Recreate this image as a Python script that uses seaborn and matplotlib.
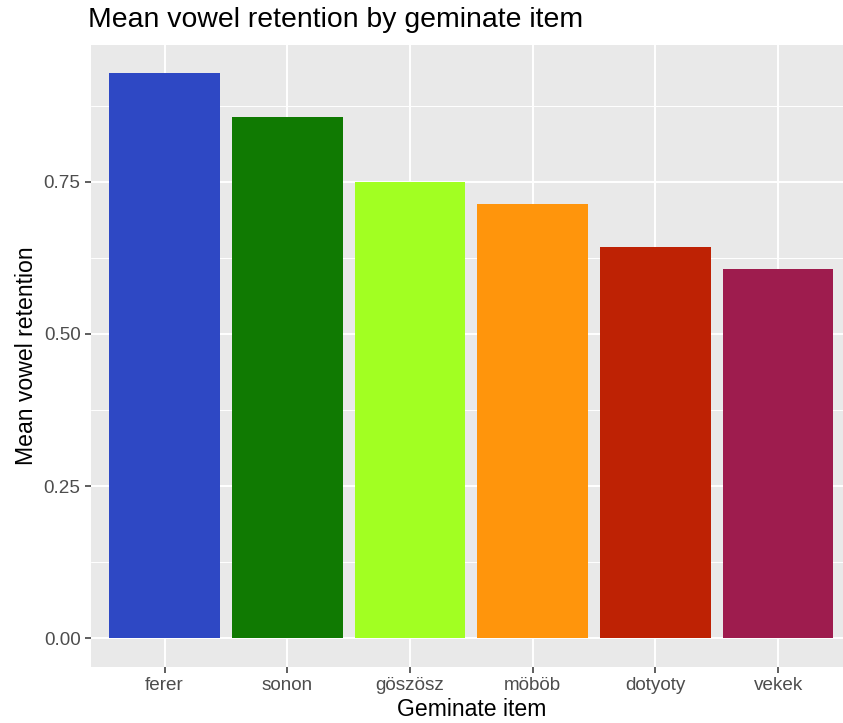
import matplotlib
matplotlib.use("Agg")
import matplotlib.pyplot as plt
import seaborn as sns
import pandas as pd
from matplotlib.ticker import MultipleLocator

items = ["ferer", "sonon", "göszösz", "möböb", "dotyoty", "vekek"]
retention = [0.928, 0.857, 0.750, 0.713, 0.642, 0.607]
colors = ["#2E48C4", "#107A02", "#A2FF22", "#FF950C", "#BE2204", "#9E1C4E"]
yticks = [0.00, 0.25, 0.50, 0.75]
ytick_labels = ["0.00", "0.25", "0.50", "0.75"]

df = pd.DataFrame({"item": items, "retention": retention})

sns.set_theme(style="darkgrid")
plt.rcParams["font.family"] = ["Liberation Sans", "DejaVu Sans"]

fig = plt.figure(figsize=(8.43, 7.23), dpi=100)
ax = fig.add_axes([91/843, 1 - 666.5/723, (851.7 - 91)/843, (666.5 - 45.3)/723])
ax.set_facecolor("#E9E9E9")

sns.barplot(data=df, x="item", y="retention", hue="item", order=items,
            hue_order=items, palette=colors, width=0.9, legend=False,
            saturation=1, ax=ax, edgecolor="none", linewidth=0)

ax.set_xlim(-0.6, 5.6)
ax.set_ylim(-0.0464, 0.974)
ax.set_yticks(yticks)
ax.set_yticklabels(ytick_labels)
ax.yaxis.set_minor_locator(MultipleLocator(0.125))
ax.set_axisbelow(True)
ax.grid(which="major", color="white", linewidth=1.4)
ax.grid(which="minor", axis="y", color="white", linewidth=0.7)
for s in ax.spines.values():
    s.set_visible(False)
ax.tick_params(axis="both", which="major", length=4, width=1.1, color="#333333",
               labelcolor="#4D4D4D", labelsize=13.6, pad=3.5, direction="out")
ax.tick_params(axis="both", which="minor", length=0)
ax.tick_params(bottom=True, left=True)

ax.set_xlabel("Geminate item", fontsize=16.6, color="black", labelpad=3)
ax.set_ylabel("Mean vowel retention", fontsize=16.6, color="black", labelpad=4)
fig.text(88/843, 1 - 20/723, "Mean vowel retention by geminate item",
         fontsize=20.4, ha="left", va="center", color="black")

fig.savefig("out.png", dpi=100)
